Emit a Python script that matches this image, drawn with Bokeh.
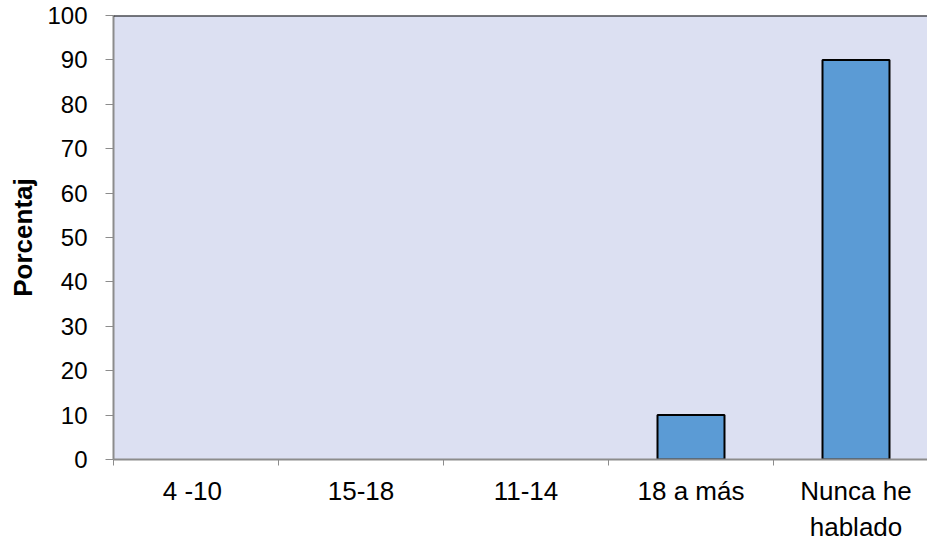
from bokeh.plotting import figure
from bokeh.models import Range1d, FixedTicker, Span, ColumnDataSource
from bokeh.embed import file_html
from bokeh.resources import INLINE

categories = ["4  -10", "15-18", "11-14", "18 a más", "Nunca he\nhablado"]
values = [0, 0, 0, 10, 90]
y_ticks = [0, 10, 20, 30, 40, 50, 60, 70, 80, 90, 100]

FONT = "Liberation Sans"
CAT_W = 165.0
FRAME_W = 814

x_pos = [i + 0.5 for i in range(len(categories))]
src = ColumnDataSource(dict(x=x_pos, top=values,
                            lc=["black" if v > 0 else None for v in values]))

p = figure(width=927, height=544, output_backend="svg", toolbar_location=None,
           x_range=Range1d(0, FRAME_W / CAT_W), y_range=Range1d(0, 100),
           min_border_left=113, min_border_right=0, min_border_top=15, min_border_bottom=85)

p.background_fill_color = "#dce0f2"
p.border_fill_color = "white"
p.outline_line_color = None
p.grid.visible = False

p.vbar(x="x", top="top", width=0.406, source=src, fill_color="#5b9bd5",
       line_color="lc", line_width=2)

p.add_layout(Span(location=100, dimension="width", line_color="black", line_width=2))

# x axis
p.xaxis.ticker = FixedTicker(ticks=x_pos, minor_ticks=list(range(len(categories))))
p.xaxis.major_label_overrides = {x: c for x, c in zip(x_pos, categories)}
p.xaxis.major_tick_out = 0
p.xaxis.major_tick_in = 0
p.xaxis.minor_tick_out = 6
p.xaxis.minor_tick_in = 0
p.xaxis.minor_tick_line_color = "#8c8c8c"
p.xaxis.axis_line_color = "#8c8c8c"
p.xaxis.axis_line_width = 2
p.xaxis.major_label_standoff = 10
p.xaxis.major_label_text_font = FONT
p.xaxis.major_label_text_font_size = "26px"
p.xaxis.major_label_text_color = "black"

# y axis
p.yaxis.ticker = FixedTicker(ticks=y_ticks, minor_ticks=[])
p.yaxis.major_tick_out = 8
p.yaxis.major_tick_in = 0
p.yaxis.major_tick_line_color = "#8c8c8c"
p.yaxis.axis_line_color = "#8c8c8c"
p.yaxis.axis_line_width = 2
p.yaxis.major_label_standoff = 18
p.yaxis.major_label_text_font = FONT
p.yaxis.major_label_text_font_size = "24px"
p.yaxis.major_label_text_color = "black"
p.yaxis.axis_label = "Porcentaj"
p.yaxis.axis_label_text_font = FONT
p.yaxis.axis_label_text_font_size = "26px"
p.yaxis.axis_label_text_font_style = "bold"
p.yaxis.axis_label_text_color = "black"
p.yaxis.axis_label_standoff = 6

open("out.html", "w").write(file_html(p, INLINE))
